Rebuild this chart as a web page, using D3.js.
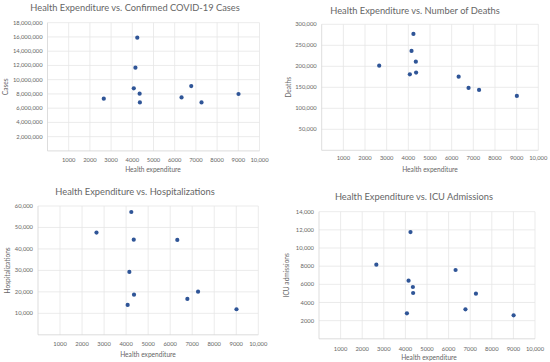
<!DOCTYPE html>
<html><head><meta charset="utf-8">
<script src="https://cdn.jsdelivr.net/npm/d3@7"></script>
<style>
html,body{margin:0;padding:0;background:#fff;}
svg{display:block;}
text{font-family:Lato,"Open Sans",sans-serif;}
</style></head>
<body>
<svg id="c" width="550" height="362"></svg>
<script>
// ---- data ----
const healthExpenditure = [2655, 4070, 4147, 4235, 4346, 4358, 6323, 6780, 7265, 9010];
const cases            = [7330000, 8780000, 11680000, 15900000, 8030000, 6810000, 7510000, 9100000, 6810000, 7990000];
const deaths           = [201600, 181000, 236500, 277000, 211000, 185000, 175400, 148400, 143700, 129400];
const hospitalizations = [47600, 13900, 29300, 57200, 44300, 18700, 44200, 16700, 20100, 11900];
const icuAdmissions    = [8165, 2807, 6404, 11761, 5706, 5046, 7578, 3248, 4972, 2587];

const xTicks = [1000, 2000, 3000, 4000, 5000, 6000, 7000, 8000, 9000, 10000];
const xTickLabels = ["1000","2000","3000","4000","5000","6000","7000","8000","9000","10,000"];
const casesTicks = [2e6,4e6,6e6,8e6,10e6,12e6,14e6,16e6,18e6];
const casesTickLabels = ["2,000,000","4,000,000","6,000,000","8,000,000","10,000,000","12,000,000","14,000,000","16,000,000","18,000,000"];
const deathsTicks = [50000,100000,150000,200000,250000,300000];
const deathsTickLabels = ["50,000","100,000","150,000","200,000","250,000","300,000"];
const hospTicks = [10000,20000,30000,40000,50000,60000];
const hospTickLabels = ["10,000","20,000","30,000","40,000","50,000","60,000"];
const icuTicks = [2000,4000,6000,8000,10000,12000,14000];
const icuTickLabels = ["2000","4000","6000","8000","10,000","12,000","14,000"];

const titles = ["Health Expenditure vs. Confirmed COVID-19 Cases","Health Expenditure vs. Number of Deaths","Health Expenditure vs. Hospitalizations","Health Expenditure vs. ICU Admissions"];
const yTitles = ["Cases","Deaths","Hospitalizations","ICU admissions"];
const xTitle = "Health expenditure";

// ---- layout ----
const panels = [
  {vals:cases, ticks:casesTicks, labels:casesTickLabels, ymax:18e6,
   L:47.5, R:259.5, T:22.7, B:150.9, titleX:135, titleY:11, yTitleX:8, xTickY:161.5, xTitleY:171.5, xTitleX:153},
  {vals:deaths, ticks:deathsTicks, labels:deathsTickLabels, ymax:300000,
   L:321.7, R:538.3, T:24.3, B:150.3, titleX:415, titleY:13.5, yTitleX:291, xTickY:159.5, xTitleY:171.5, xTitleX:430},
  {vals:hospitalizations, ticks:hospTicks, labels:hospTickLabels, ymax:60000,
   L:38, R:258.3, T:206, B:334.8, titleX:135, titleY:194.5, yTitleX:10, xTickY:345.8, xTitleY:356.5, xTitleX:148},
  {vals:icuAdmissions, ticks:icuTicks, labels:icuTickLabels, ymax:14000,
   L:319, R:535, T:211.7, B:338.8, titleX:414, titleY:200, yTitleX:289, xTickY:350.5, xTitleY:360, xTitleX:429}
];

const svg = d3.select("#c");
panels.forEach((p,i)=>{
  const g = svg.append("g");
  const x = d3.scaleLinear().domain([0,10000]).range([p.L,p.R]);
  const y = d3.scaleLinear().domain([0,p.ymax]).range([p.B,p.T]);
  // gridlines
  g.append("g").selectAll("line.h").data(p.ticks).join("line")
    .attr("x1",p.L).attr("x2",p.R).attr("y1",d=>y(d)).attr("y2",d=>y(d))
    .attr("stroke","#e6e6e6").attr("stroke-width",0.8);
  g.append("g").selectAll("line.v").data(xTicks).join("line")
    .attr("x1",d=>x(d)).attr("x2",d=>x(d)).attr("y1",p.T).attr("y2",p.B)
    .attr("stroke","#e6e6e6").attr("stroke-width",0.8);
  // axis lines
  g.append("line").attr("x1",p.L).attr("x2",p.R).attr("y1",p.B).attr("y2",p.B).attr("stroke","#d4d4d4").attr("stroke-width",0.8);
  g.append("line").attr("x1",p.L).attr("x2",p.L).attr("y1",p.T).attr("y2",p.B).attr("stroke","#d4d4d4").attr("stroke-width",0.8);
  // y tick labels
  g.append("g").selectAll("text").data(p.ticks).join("text")
    .attr("x",p.L-5).attr("y",d=>y(d)).attr("dy","0.35em")
    .attr("text-anchor","end").attr("font-size",5.8).attr("fill","#666")
    .text((d,j)=>p.labels[j]);
  // x tick labels
  g.append("g").selectAll("text").data(xTicks).join("text")
    .attr("x",d=>x(d)).attr("y",p.xTickY).attr("text-anchor","middle")
    .attr("font-size",5.8).attr("fill","#666")
    .text((d,j)=>xTickLabels[j]);
  // titles
  g.append("text").attr("x",p.titleX).attr("y",p.titleY).attr("text-anchor","middle")
    .attr("font-size",9.3).attr("fill","#666").text(titles[i]);
  g.append("text").attr("x",p.xTitleX).attr("y",p.xTitleY).attr("text-anchor","middle")
    .attr("font-size",6.6).attr("fill","#666").text(xTitle);
  const cy = (p.T+p.B)/2;
  g.append("text").attr("transform",`translate(${p.yTitleX},${cy}) rotate(-90)`)
    .attr("text-anchor","middle").attr("font-size",6.6).attr("fill","#666").text(yTitles[i]);
  // points
  g.append("g").selectAll("circle").data(healthExpenditure).join("circle")
    .attr("cx",d=>x(d)).attr("cy",(d,j)=>y(p.vals[j])).attr("r",2.1)
    .attr("fill","#2f5597");
});
</script>
</body></html>
